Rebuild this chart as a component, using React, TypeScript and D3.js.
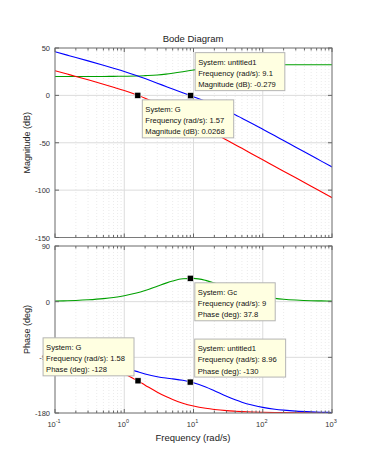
import React, { useRef, useEffect } from 'react'
import * as d3 from 'd3'

// Frequencies (rad/s) the curves were read at
const freqs = [0.1, 0.15, 0.2, 0.3, 0.5, 0.7, 1, 1.5, 2, 3, 4, 5, 7, 10, 15, 20, 30, 40, 50, 70, 100, 150, 200, 300, 500, 700, 1000]

// Magnitude (dB)
const magG = [26.0, 22.5, 20.0, 16.4, 11.8, 8.6, 5.1, 0.6, -3.0, -8.6, -13.0, -16.6, -22.1, -28.1, -35.1, -40.0, -47.1, -52.1, -55.9, -61.8, -68.0, -75.0, -80.0, -87.0, -95.9, -101.8, -108.0]
const magGc = [20.0, 20.0, 20.0, 20.0, 20.0, 20.1, 20.2, 20.4, 20.8, 21.5, 22.4, 23.3, 24.9, 26.8, 28.8, 29.9, 31.1, 31.6, 31.9, 32.1, 32.3, 32.3, 32.4, 32.4, 32.4, 32.4, 32.4]
const magL = [46.0, 42.5, 40.0, 36.4, 31.8, 28.7, 25.3, 21.0, 17.7, 12.9, 9.4, 6.7, 2.8, -1.4, -6.3, -10.1, -16.0, -20.4, -24.1, -29.6, -35.7, -42.7, -47.6, -54.7, -63.5, -69.4, -75.6]

// Phase (deg)
const phaseG = [-92.9, -94.3, -95.7, -98.5, -104.0, -109.3, -116.6, -126.9, -135.0, -146.3, -153.4, -158.2, -164.1, -168.7, -172.4, -174.3, -176.2, -177.1, -177.7, -178.4, -178.9, -179.2, -179.4, -179.6, -179.8, -179.8, -179.9]
const phaseGc = [1.0, 1.5, 2.0, 3.0, 4.9, 6.8, 9.7, 14.1, 18.2, 25.0, 30.0, 33.4, 37.0, 37.7, 34.4, 30.2, 23.2, 18.4, 15.2, 11.1, 7.9, 5.3, 4.0, 2.7, 1.6, 1.2, 0.8]
const phaseL = [-91.9, -92.8, -93.7, -95.6, -99.1, -102.5, -106.9, -112.7, -116.8, -121.3, -123.5, -124.8, -127.1, -131.0, -138.0, -144.1, -153.0, -158.7, -162.6, -167.2, -170.9, -173.9, -175.4, -177.0, -178.2, -178.7, -179.1]

const systemNames = ['untitled1', 'G', 'Gc']
const systemColors: Record<string, string> = { untitled1: '#0000ff', G: '#ff0000', Gc: '#00a000' }
const magSeries: Record<string, number[]> = { untitled1: magL, G: magG, Gc: magGc }
const phaseSeries: Record<string, number[]> = { untitled1: phaseL, G: phaseG, Gc: phaseGc }

const magTicks = [50, 0, -50, -100, -150]
const phaseTicks = [90, 0, -90, -180]
const decades = [-1, 0, 1, 2, 3]

// Data tips shown on the chart
const tipPanels = ['mag', 'mag', 'phase', 'phase', 'phase']
const tipSystems = ['untitled1', 'G', 'Gc', 'G', 'untitled1']
const tipFreqs = [9.1, 1.57, 9, 1.58, 8.96]
const tipFreqText = ['9.1', '1.57', '9', '1.58', '8.96']
const tipValues = [-0.279, 0.0268, 37.8, -128, -130]
const tipValueText = ['-0.279', '0.0268', '37.8', '-128', '-130']

// where each box sits relative to its marker: [dx sign, dy sign]
const tipPlacement = [[1, -1], [1, 1], [1, 1], [-1, -1], [1, -1]]

const FONT = '"Liberation Sans", Arial, sans-serif'

const App = () => {
    const svgRef = useRef<SVGSVGElement>(null)

    useEffect(() => {
        const svg = d3.select(svgRef.current)
        svg.selectAll('*').remove()

        const left = 55, right = 332
        const magTop = 48, magBottom = 237.5
        const phTop = 246, phBottom = 413

        const x = d3.scaleLog().domain([0.1, 1000]).range([left, right])
        const yMag = d3.scaleLinear().domain([-150, 50]).range([magBottom, magTop])
        const yPh = d3.scaleLinear().domain([-180, 90]).range([phBottom, phTop])

        svg.append('rect').attr('width', 367).attr('height', 465).attr('fill', '#fff')

        const minor: number[] = []
        decades.slice(0, -1).forEach(e => {
            for (let k = 2; k <= 9; k++) minor.push(k * Math.pow(10, e))
        })
        const major = decades.map(e => Math.pow(10, e))

        const panels = [
            { key: 'mag', y: yMag, top: magTop, bottom: magBottom, ticks: magTicks, series: magSeries },
            { key: 'phase', y: yPh, top: phTop, bottom: phBottom, ticks: phaseTicks, series: phaseSeries },
        ]

        panels.forEach(p => {
            const g = svg.append('g')

            // minor grid
            g.selectAll('.minor').data(minor).join('line')
                .attr('x1', d => x(d)).attr('x2', d => x(d))
                .attr('y1', p.top).attr('y2', p.bottom)
                .attr('stroke', '#e2e2e2').attr('stroke-width', 0.7)
                .attr('stroke-dasharray', '1,2')
            // major grid
            g.selectAll('.major').data(major).join('line')
                .attr('x1', d => x(d)).attr('x2', d => x(d))
                .attr('y1', p.top).attr('y2', p.bottom)
                .attr('stroke', '#dcdcdc').attr('stroke-width', 1)
            g.selectAll('.hgrid').data(p.ticks).join('line')
                .attr('x1', left).attr('x2', right)
                .attr('y1', d => p.y(d)).attr('y2', d => p.y(d))
                .attr('stroke', '#dcdcdc').attr('stroke-width', 1)

            const clipId = 'clip-' + p.key
            svg.append('clipPath').attr('id', clipId)
                .append('rect').attr('x', left).attr('y', p.top)
                .attr('width', right - left).attr('height', p.bottom - p.top)

            const line = d3.line<number>()
                .x((_, i) => x(freqs[i]))
                .y(d => p.y(d))
                .curve(d3.curveMonotoneX)

            systemNames.slice().reverse().forEach(name => {
                g.append('path')
                    .attr('d', line(p.series[name]))
                    .attr('fill', 'none')
                    .attr('stroke', systemColors[name])
                    .attr('stroke-width', 1.1)
                    .attr('clip-path', `url(#${clipId})`)
            })

            // frame
            g.append('rect')
                .attr('x', left).attr('y', p.top)
                .attr('width', right - left).attr('height', p.bottom - p.top)
                .attr('fill', 'none').attr('stroke', '#7a7a7a').attr('stroke-width', 1)

            // ticks
            const tick = (sel: d3.Selection<SVGGElement, unknown, null, undefined>, cls: string, vals: number[], y0: number, len: number) =>
                sel.selectAll('.' + cls).data(vals).join('line')
                    .attr('x1', d => x(d)).attr('x2', d => x(d))
                    .attr('y1', y0).attr('y2', y0 + len)
                    .attr('stroke', '#666')
            tick(g, 'xt', major, p.bottom, -4)
            tick(g, 'xtt', major, p.top, 4)
            tick(g, 'xm', minor, p.bottom, -2.5)
            tick(g, 'xmt', minor, p.top, 2.5)
            g.selectAll('.yt').data(p.ticks).join('line')
                .attr('x1', left).attr('x2', left + 4)
                .attr('y1', d => p.y(d)).attr('y2', d => p.y(d))
                .attr('stroke', '#666')
            g.selectAll('.ytr').data(p.ticks).join('line')
                .attr('x1', right).attr('x2', right - 4)
                .attr('y1', d => p.y(d)).attr('y2', d => p.y(d))
                .attr('stroke', '#666')

            g.selectAll('.yl').data(p.ticks).join('text')
                .attr('x', left - 5).attr('y', d => p.y(d) + 3)
                .attr('text-anchor', 'end')
                .attr('font-family', FONT).attr('font-size', 7.5)
                .attr('fill', '#333')
                .text(d => String(d))
        })

        // x tick labels 10^n
        decades.forEach(e => {
            const t = svg.append('text')
                .attr('x', x(Math.pow(10, e)) - 1).attr('y', 427)
                .attr('text-anchor', 'middle')
                .attr('font-family', FONT).attr('font-size', 7.5)
                .attr('fill', '#333')
            t.append('tspan').text('10')
            t.append('tspan').attr('dy', -4).attr('font-size', 5.5).text(String(e))
        })

        const label = (txt: string, lx: number, ly: number, rot: number, size: number) =>
            svg.append('text')
                .attr('transform', `translate(${lx},${ly}) rotate(${rot})`)
                .attr('text-anchor', 'middle')
                .attr('font-family', FONT).attr('font-size', size)
                .attr('fill', '#222')
                .text(txt)

        label('Bode Diagram', 193, 42, 0, 9.5)
        label('Frequency (rad/s)', 193, 441, 0, 9.5)
        label('Magnitude (dB)', 30, (magTop + magBottom) / 2, -90, 9)
        label('Phase (deg)', 30, (phTop + phBottom) / 2, -90, 9)

        // data tips
        tipSystems.forEach((sys, i) => {
            const yScale = tipPanels[i] === 'mag' ? yMag : yPh
            const mx = x(tipFreqs[i]), my = yScale(tipValues[i])
            const valueLabel = tipPanels[i] === 'mag' ? 'Magnitude (dB)' : 'Phase (deg)'
            const lines = [
                `System: ${sys}`,
                `Frequency (rad/s): ${tipFreqText[i]}`,
                `${valueLabel}: ${tipValueText[i]}`,
            ]
            const g = svg.append('g')
            const box = g.append('rect')
                .attr('fill', '#ffffe1').attr('stroke', '#b4b4b4').attr('stroke-width', 1)
            const txt = g.append('g')
            lines.forEach((l, j) => {
                txt.append('text')
                    .attr('x', 3).attr('y', 12 + j * 11.3)
                    .attr('font-family', FONT).attr('font-size', 7.6)
                    .attr('fill', '#111')
                    .text(l)
            })
            const w = (txt.node() as SVGGElement).getBBox().width + 12
            const h = 38
            const [sx, sy] = tipPlacement[i]
            const bx = sx > 0 ? mx + 4.5 : mx - 4 - w
            const by = sy > 0 ? my + 4.5 : my - 5 - h
            box.attr('x', 0).attr('y', 0).attr('width', w).attr('height', h)
            g.attr('transform', `translate(${bx},${by})`)

            svg.append('rect')
                .attr('x', mx - 3).attr('y', my - 3)
                .attr('width', 6).attr('height', 6)
                .attr('fill', '#000').attr('stroke', '#fff').attr('stroke-width', 0.5)
        })
    }, [])

    return (
        <svg ref={svgRef} width={367} height={465}
            style={{ position: 'absolute', left: 0, top: 0 }} />
    )
}

export default App
